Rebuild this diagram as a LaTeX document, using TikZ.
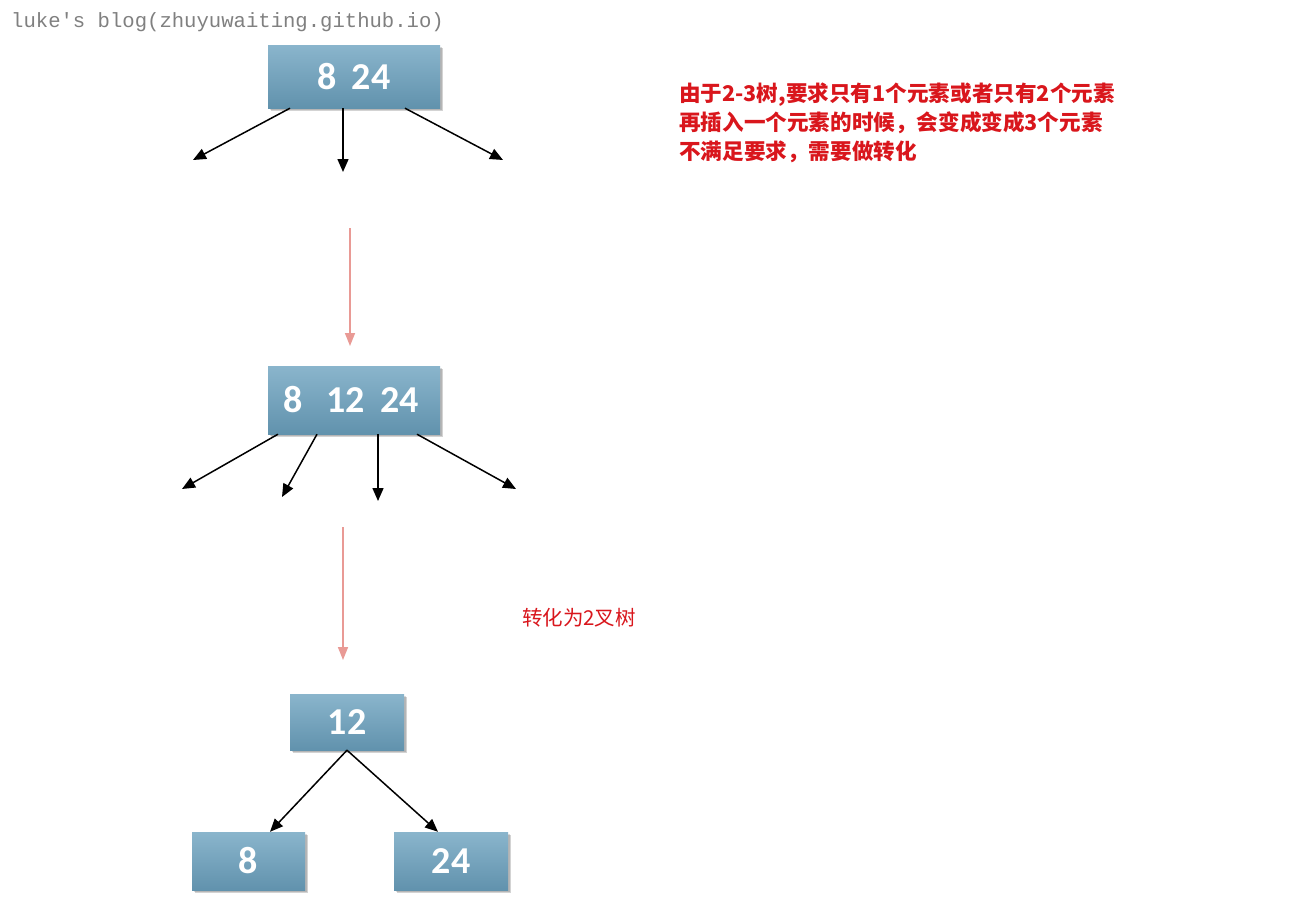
\documentclass[tikz,border=0pt]{standalone}
\usepackage{fontspec}
\setmainfont{Carlito}
\newfontfamily\cjk{Noto Sans CJK SC}
\newfontfamily\monofont{Liberation Mono}
\usetikzlibrary{shadows,arrows.meta}
\definecolor{boxtop}{HTML}{8AB5CC}
\definecolor{boxbot}{HTML}{6192AD}
\definecolor{noteRed}{HTML}{D9161C}
\definecolor{flowPink}{HTML}{E99A95}
\definecolor{markGray}{HTML}{808080}
\tikzset{
  softshadow/.style={
    general shadow={shadow xshift=3pt, shadow yshift=-3pt, shadow scale=1.0, opacity=0.08, fill=black},
    general shadow={shadow xshift=2.5pt, shadow yshift=-2.5pt, opacity=0.10, fill=black},
    general shadow={shadow xshift=1.5pt, shadow yshift=-1.5pt, opacity=0.14, fill=black}},
  keybox/.style={rectangle, top color=boxtop, bottom color=boxbot, draw=none,
    text=white, font=\bfseries\fontsize{38}{40}\selectfont,
    softshadow, inner sep=0pt},
  edge/.style={-{Triangle[length=13pt,width=11pt]}, line width=1.5pt, black},
  flow/.style={-{Triangle[length=13pt,width=10pt]}, line width=1.5pt, flowPink},
  note/.style={text=noteRed, font=\cjk\bfseries\fontsize{21.6}{29}\selectfont, inner sep=0pt}
}
\begin{document}
\begin{tikzpicture}[x=1pt,y=-1pt]
\useasboundingbox[fill=white] (0,0) rectangle (1314,908);

% watermark
\node[anchor=west, inner sep=0pt, text=markGray, font=\monofont\fontsize{20.6}{22}\selectfont] (mark) at (11,22) {luke's blog(zhuyuwaiting.github.io)};

% first node: two keys
\node[keybox, minimum width=172pt, minimum height=63pt] (n1) at (354,76.5) {8\hspace{15pt}24};
\coordinate (a1) at (193,160);
\coordinate (a2) at (343,172);
\coordinate (a3) at (503,160);
\draw[edge] (n1.south west -| 290,0) -- (a1);
\draw[edge] (n1.south -| 343,0) -- (a2);
\draw[edge] (n1.south -| 405,0) -- (a3);

\node[note, anchor=north west, align=left] (why) at (679,83)
  {由于2-3树,要求只有1个元素或者只有2个元素\\再插入一个元素的时候，会变成变成3个元素\\不满足要求，需要做转化};

% insertion step
\coordinate (f1s) at (350,228);
\coordinate (f1e) at (350,346);
\draw[flow] (f1s) -- (f1e);

% overfull node: three keys
\node[keybox, minimum width=172pt, minimum height=68pt] (n2) at (354,400) {\hspace{-6pt}8\hspace{24pt}12\hspace{15pt}24};
\coordinate (b1) at (182,489);
\coordinate (b2) at (282,497);
\coordinate (b3) at (378,501);
\coordinate (b4) at (516,489);
\draw[edge] (n2.south -| 278,0) -- (b1);
\draw[edge] (n2.south -| 317,0) -- (b2);
\draw[edge] (n2.south -| 378,0) -- (b3);
\draw[edge] (n2.south -| 417,0) -- (b4);

% split step
\coordinate (f2s) at (343,527);
\coordinate (f2e) at (343,660);
\draw[flow] (f2s) -- (f2e);
\node[note, font=\cjk\fontsize{20.5}{22}\selectfont] (split) at (579,618) {转化为2叉树};

% resulting binary tree
\node[keybox, minimum width=114pt, minimum height=56pt] (r) at (347,722) {12};
\node[keybox, minimum width=113pt, minimum height=58pt] (l) at (248.5,861) {8};
\node[keybox, minimum width=114pt, minimum height=58pt] (g) at (451,861) {24};
\draw[edge] (r.south) -- (l.north -| 270,0);
\draw[edge] (r.south) -- (g.north -| 438,0);
\end{tikzpicture}
\end{document}
